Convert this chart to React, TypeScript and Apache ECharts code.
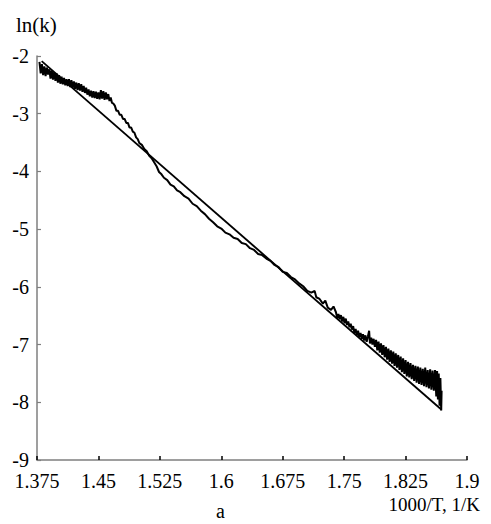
import React, { useEffect, useRef } from "react";
import * as echarts from "echarts";

// Measured curve, noisy low-temperature start: 1000/T (1/K)
const startX = [
  1.3780, 1.3795, 1.3810, 1.3825, 1.3840, 1.3855, 1.3870, 1.3885, 1.3900, 1.3915,
  1.3930, 1.3945, 1.3960, 1.3975, 1.3990, 1.4005, 1.4020, 1.4035, 1.4050, 1.4065,
  1.4080, 1.4095, 1.4110, 1.4125, 1.4140, 1.4155, 1.4170, 1.4185, 1.4200, 1.4215,
  1.4230, 1.4245, 1.4260, 1.4275, 1.4290, 1.4305, 1.4320, 1.4335, 1.4350, 1.4365,
  1.4380, 1.4395, 1.4410, 1.4425, 1.4440, 1.4455, 1.4470, 1.4485, 1.4500, 1.4515,
  1.4530, 1.4545, 1.4560, 1.4575, 1.4590, 1.4605, 1.4620, 1.4635, 1.4650, 1.4665,
  1.4680
];
// ln(k)
const startY = [
  -2.10, -2.30, -2.14, -2.33, -2.18, -2.35, -2.20, -2.32, -2.23, -2.39,
  -2.25, -2.41, -2.28, -2.43, -2.30, -2.46, -2.33, -2.48, -2.36, -2.49,
  -2.38, -2.51, -2.40, -2.52, -2.40, -2.54, -2.42, -2.55, -2.44, -2.57,
  -2.46, -2.59, -2.47, -2.60, -2.49, -2.62, -2.52, -2.64, -2.55, -2.67,
  -2.58, -2.70, -2.60, -2.72, -2.61, -2.73, -2.62, -2.74, -2.63, -2.75,
  -2.59, -2.74, -2.61, -2.76, -2.63, -2.75, -2.66, -2.78, -2.72, -2.81,
  -2.82
];

// Measured curve, middle part: 1000/T (1/K)
const midX = [
  1.470, 1.472, 1.474, 1.476, 1.478, 1.480, 1.482, 1.484, 1.486, 1.488,
  1.490, 1.492, 1.494, 1.496, 1.498, 1.500, 1.503, 1.506, 1.509, 1.512,
  1.515, 1.518, 1.521, 1.524, 1.527, 1.530, 1.534, 1.538, 1.542, 1.546,
  1.550, 1.555, 1.560, 1.565, 1.570, 1.575, 1.580, 1.585, 1.590, 1.595,
  1.600, 1.605, 1.610, 1.615, 1.620, 1.625, 1.630, 1.635, 1.640, 1.645,
  1.650, 1.655, 1.660, 1.665, 1.670, 1.675, 1.680, 1.685, 1.690, 1.695,
  1.700, 1.705, 1.710, 1.714, 1.716, 1.720, 1.724, 1.727, 1.730, 1.734,
  1.737
];
// ln(k)
const midY = [
  -2.86, -2.95, -2.95, -3.02, -3.02, -3.09, -3.09, -3.16, -3.16, -3.24,
  -3.24, -3.31, -3.33, -3.41, -3.44, -3.51, -3.54, -3.61, -3.65, -3.73,
  -3.77, -3.84, -3.91, -4.01, -4.05, -4.11, -4.15, -4.23, -4.26, -4.33,
  -4.36, -4.43, -4.47, -4.56, -4.60, -4.68, -4.74, -4.82, -4.88, -4.95,
  -4.99, -5.06, -5.09, -5.15, -5.17, -5.24, -5.26, -5.33, -5.36, -5.43,
  -5.45, -5.51, -5.55, -5.62, -5.66, -5.74, -5.76, -5.83, -5.87, -5.94,
  -5.99, -6.07, -6.10, -6.07, -6.18, -6.21, -6.29, -6.24, -6.36, -6.40,
  -6.34
];

// Measured curve, noisy high-temperature end: 1000/T (1/K)
const endX = [
  1.7400, 1.7415, 1.7430, 1.7445, 1.7460, 1.7475, 1.7490, 1.7505, 1.7520, 1.7535,
  1.7550, 1.7565, 1.7580, 1.7595, 1.7610, 1.7625, 1.7640, 1.7655, 1.7670, 1.7685,
  1.7700, 1.7715, 1.7730, 1.7745, 1.7760, 1.7775, 1.7790, 1.7805, 1.7815, 1.7830,
  1.7845, 1.7860, 1.7875, 1.7890, 1.7905, 1.7920, 1.7935, 1.7950, 1.7965, 1.7980,
  1.7995, 1.8010, 1.8025, 1.8040, 1.8055, 1.8070, 1.8085, 1.8100, 1.8115, 1.8130,
  1.8145, 1.8160, 1.8175, 1.8190, 1.8205, 1.8220, 1.8235, 1.8250, 1.8265, 1.8280,
  1.8295, 1.8310, 1.8325, 1.8340, 1.8355, 1.8370, 1.8385, 1.8400, 1.8415, 1.8430,
  1.8445, 1.8460, 1.8475, 1.8490, 1.8505, 1.8520, 1.8535, 1.8550, 1.8565, 1.8580,
  1.8595, 1.8610, 1.8625, 1.8635, 1.8645, 1.8655, 1.8665, 1.8675, 1.8685, 1.8690
];
// ln(k)
const endY = [
  -6.44, -6.54, -6.47, -6.56, -6.49, -6.60, -6.52, -6.63, -6.55, -6.66,
  -6.60, -6.70, -6.64, -6.74, -6.68, -6.80, -6.73, -6.84, -6.76, -6.87,
  -6.80, -6.90, -6.82, -6.93, -6.84, -6.95, -6.86, -6.76, -6.98, -6.88,
  -7.00, -6.90, -7.04, -6.92, -7.10, -6.95, -7.14, -6.98, -7.18, -7.01,
  -7.22, -7.04, -7.26, -7.07, -7.30, -7.10, -7.33, -7.12, -7.37, -7.15,
  -7.40, -7.18, -7.44, -7.21, -7.48, -7.24, -7.51, -7.27, -7.55, -7.30,
  -7.57, -7.32, -7.60, -7.35, -7.63, -7.37, -7.66, -7.38, -7.68, -7.40,
  -7.70, -7.42, -7.72, -7.40, -7.74, -7.44, -7.76, -7.43, -7.78, -7.45,
  -7.80, -7.44, -7.90, -7.46, -7.95, -7.50, -8.06, -7.58, -8.14, -7.80
];

// Fitted straight line (end points)
const fitX = [1.3807, 1.869];
const fitY = [-2.09, -8.13];

const xTicks = { min: 1.375, max: 1.9, step: 0.075 };
const yTicks = { min: -9, max: -2, step: 1 };

const yTitle = "ln(k)";
const xTitle = "1000/T, 1/K";
const panelLabel = "a";

export default function App() {
  const ref = useRef<HTMLDivElement>(null);
  useEffect(() => {
    if (!ref.current) return;
    const chart = echarts.init(ref.current, null, { renderer: "svg" });
    const font = "'Liberation Serif', 'Times New Roman', serif";
    const curveXs = [...startX, ...midX, ...endX];
    const curveYs = [...startY, ...midY, ...endY];
    chart.setOption({
      animation: false,
      backgroundColor: "#ffffff",
      grid: { left: 37, right: 24, top: 56, bottom: 64, containLabel: false },
      xAxis: {
        type: "value",
        min: xTicks.min,
        max: xTicks.max,
        interval: xTicks.step,
        axisLine: { show: true, onZero: false, lineStyle: { color: "#7f7f7f", width: 1.5 } },
        axisTick: { show: true, inside: true, length: 4, lineStyle: { color: "#000", width: 1.5 } },
        splitLine: { show: false },
        axisLabel: {
          color: "#000",
          fontFamily: font,
          fontSize: 20,
          margin: 11,
          showMinLabel: true,
          showMaxLabel: true,
          formatter: (v: number) => String(parseFloat(v.toFixed(3))),
        },
      },
      yAxis: {
        type: "value",
        min: yTicks.min,
        max: yTicks.max,
        interval: yTicks.step,
        axisLine: { show: true, onZero: false, lineStyle: { color: "#7f7f7f", width: 1.5 } },
        axisTick: { show: true, inside: true, length: 4, lineStyle: { color: "#7f7f7f", width: 1.2 } },
        splitLine: { show: false },
        axisLabel: {
          color: "#000",
          fontFamily: font,
          fontSize: 20,
          margin: 8,
        },
      },
      graphic: [
        { type: "text", left: 16, top: 14, style: { text: yTitle, font: `21px ${font}`, fill: "#000" } },
        { type: "text", right: 11, top: 495, style: { text: xTitle, font: `19px ${font}`, fill: "#000" } },
        { type: "text", left: 216, top: 501, style: { text: panelLabel, font: `20px ${font}`, fill: "#000" } },
      ],
      series: [
        {
          type: "line",
          data: fitX.map((x, i) => [x, fitY[i]]),
          showSymbol: false,
          lineStyle: { color: "#000", width: 1.8 },
          z: 2,
        },
        {
          type: "line",
          data: curveXs.map((x, i) => [x, curveYs[i]]),
          showSymbol: false,
          lineStyle: { color: "#000", width: 2 },
          z: 3,
        },
      ],
    });
    return () => chart.dispose();
  }, []);
  return <div ref={ref} style={{ position: "fixed", left: 0, top: 0, width: 491, height: 524 }} />;
}
